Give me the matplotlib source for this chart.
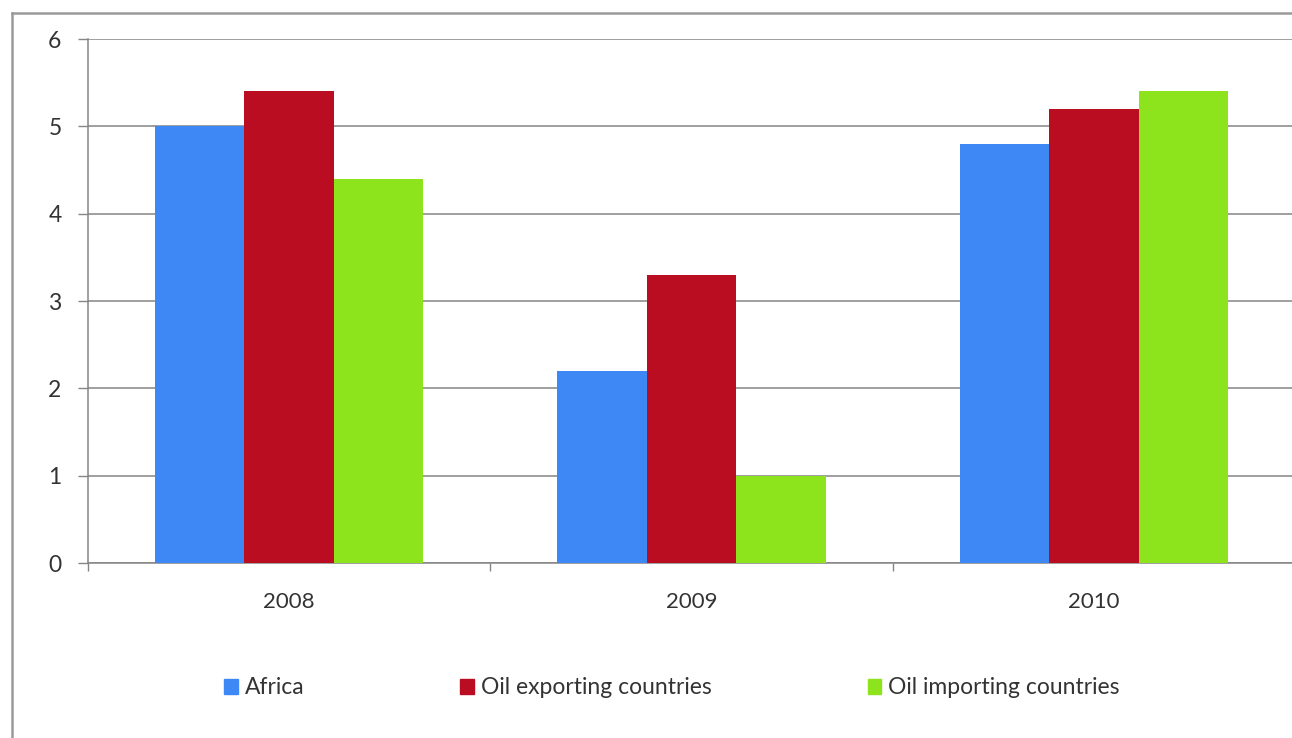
import matplotlib
matplotlib.use("Agg")
from matplotlib import pyplot as plt
from matplotlib.lines import Line2D
from matplotlib.patches import Patch
import numpy as np

plt.rcParams['font.family'] = ['Lato', 'DejaVu Sans']

years = ["2008", "2009", "2010"]
series_names = ["Africa", "Oil exporting countries", "Oil importing countries"]
africa = [5.0, 2.2, 4.8]
oil_exp = [5.4, 3.3, 5.2]
oil_imp = [4.4, 1.0, 5.4]
colors = ["#3d88f4", "#bb0d22", "#8de31c"]

W, H = 1292, 738
fig = plt.figure(figsize=(W / 100, H / 100), dpi=100)

# outer chart frame (cut off on the right and bottom)
fig.add_artist(Line2D([12 / W, 12 / W], [0, 1 - 13 / H], transform=fig.transFigure,
                      color="#9a9a9a", lw=1.8))
fig.add_artist(Line2D([12 / W, 1], [1 - 13 / H, 1 - 13 / H], transform=fig.transFigure,
                      color="#9a9a9a", lw=1.8))

ax = fig.add_axes([88 / W, 1 - 563 / H, 1207 / W, 524 / H])

x = np.arange(len(years))
bw = 1 / 4.5
for i, (vals, c) in enumerate(zip([africa, oil_exp, oil_imp], colors)):
    ax.bar(x + (i - 1) * bw, vals, width=bw, color=c, zorder=3, label=series_names[i])

ax.set_xlim(-0.5, 2.5)
ax.set_ylim(0, 6)
ax.set_yticks(range(7))
ax.yaxis.grid(True, color="#858585", lw=1.1, zorder=0)
ax.set_xticks(x)
ax.set_xticklabels(years)
ax.set_xticks([-0.5, 0.5, 1.5], minor=True)
ax.tick_params(axis="x", which="major", length=0, pad=21, labelsize=16, labelcolor="#333333")
ax.tick_params(axis="x", which="minor", length=6, color="#858585", width=1)
ax.tick_params(axis="y", length=7, color="#858585", width=1, pad=12, labelsize=16.5,
               labelcolor="#333333")
for s in ["top", "right"]:
    ax.spines[s].set_visible(False)
for s in ["left", "bottom"]:
    ax.spines[s].set_color("#858585")
    ax.spines[s].set_linewidth(1.1)

handles = [Patch(color=c) for c in colors]
fig.legend(handles, series_names, loc="center", bbox_to_anchor=(672 / W, 1 - 688 / H),
           ncol=3, frameon=False, fontsize=16.5, handlelength=0.6, handleheight=0.6,
           handletextpad=0.3, columnspacing=6.8, labelcolor="#333333")

fig.savefig("out.png", dpi=100)
